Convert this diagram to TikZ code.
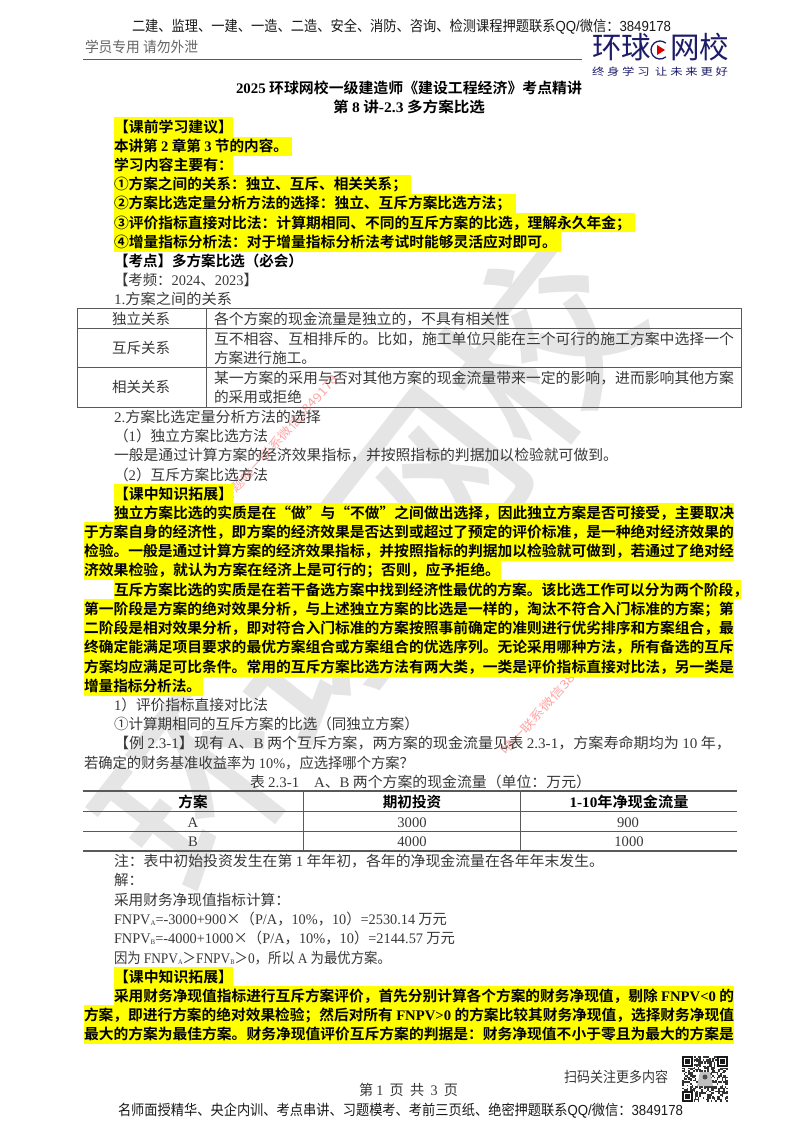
\documentclass[tikz,border=0pt]{standalone}
\usepackage{fontspec}
\usepackage{graphicx}
\setmainfont{Noto Sans CJK SC}[BoldFont={Noto Sans CJK SC Bold}]
\newfontfamily\wmfont{Noto Sans CJK SC Medium}
\newfontfamily\lat{Liberation Serif}
\newfontfamily\las{Liberation Sans}
\newcommand\lt[1]{{\lat #1}}
\newcommand\ls[1]{{\las #1}}
\definecolor{hl}{HTML}{FFFF00}
\definecolor{navy}{HTML}{1C1C68}
\definecolor{bodyc}{HTML}{383838}
\definecolor{wm}{HTML}{E5E5E5}
\tikzset{
  txt/.style={inner sep=0pt,outer sep=0pt,font=\fontsize{14.6pt}{16pt}\selectfont,text=bodyc,anchor=base west},
  ctr/.style={inner sep=0pt,outer sep=0pt,font=\fontsize{14.6pt}{16pt}\selectfont,text=bodyc,anchor=base},
  rule/.style={draw=black!65,line width=1pt},
  ruleb/.style={draw=black!65,line width=1.5pt},
  redmark/.style={inner sep=0pt,font=\fontsize{12pt}{14pt}\selectfont,text=red!35,rotate=48,anchor=west},
}
% x0 x1 ycentre text
\newlength\boxw
\newcommand\tl[4]{\pgfmathsetlength{\boxw}{#2-#1}%
  \node[txt] at (#1,#3+5.4) {\resizebox{\boxw}{\height}{#4}};}
\newcommand\tk[4]{\pgfmathsetlength{\boxw}{#2-#1}%
  \node[txt,text=black!90] at (#1,#3+5.4) {\resizebox{\boxw}{\height}{#4}};}
\newcommand\tb[4]{\pgfmathsetlength{\boxw}{#2-#1}%
  \node[txt,text=black] at (#1,#3+5.4) {\resizebox{\boxw}{\height}{\bfseries #4}};}
\newcommand\hlb[3]{\fill[hl] (#1,#3-9.75) rectangle (#2,#3+9.75);}
\begin{document}
\begin{tikzpicture}[x=1pt,y=-1pt]
\useasboundingbox (0,0) rectangle (800,1132);
\fill[white] (0,0) rectangle (800,1132);
% big watermark
\node[inner sep=0pt,rotate=52,text=wm,font=\fontsize{186pt}{186pt}\wmfont\selectfont] (bigwm) at (368,565) {环球网校};
% small red watermarks
\node[redmark] (wma) at (205,522) {\resizebox{195pt}{\height}{精准押题唯一联系微信3849178}};
\node[redmark] (wmb) at (503,753) {\resizebox{145pt}{\height}{唯一联系微信3849178}};
% highlights
\hlb{114}{233}{127}
\hlb{114}{292}{146.3}
\hlb{114}{233}{165.5}
\hlb{114}{411}{184.5}
\hlb{114}{516}{203.5}
\hlb{114}{635}{222.7}
\hlb{114}{561}{242}
\hlb{114}{233}{494}
\hlb{114}{734}{512.7}
\hlb{84}{734}{532}
\hlb{84}{734}{551.2}
\hlb{84}{501}{570.5}
\hlb{114}{741}{589.7}
\hlb{84}{734}{609}
\hlb{84}{734}{628}
\hlb{84}{734}{647.5}
\hlb{84}{734}{667}
\hlb{84}{203}{686}
\hlb{114}{233}{977}
\hlb{114}{734}{995.7}
\hlb{84}{734}{1015}
\hlb{84}{734}{1034}
% header
\tk{132}{671}{26}{二建、监理、一建、一造、二造、安全、消防、咨询、检测课程押题联系\ls{QQ/}微信：\ls{3849178}}
\node[txt,text=black!60,font=\fontsize{14.6pt}{16pt}\selectfont] at (85,52.4) {\resizebox{113pt}{\height}{学员专用 请勿外泄}};
\draw[rule] (83,59.5) -- (582,59.5);
% logo
\node[txt,text=navy,font=\fontsize{30pt}{30pt}\selectfont] (lg1) at (592,59) {\resizebox{59pt}{\height}{环球}};
\draw[navy,line width=1.3pt] (665.8,56.9) arc (50:310:9);
\fill[red!85!black] (657,45) -- (665,50) -- (657,55) -- cycle;
\node[txt,text=navy,font=\fontsize{30pt}{30pt}\selectfont] (lg2) at (670,59) {\resizebox{59pt}{\height}{网校}};
\node[txt,text=navy,font=\fontsize{10pt}{12pt}\selectfont] (lg3) at (592,75.5) {\resizebox{136pt}{\height}{终 身 学 习\ \ 让 未 来 更 好}};
% title
\tb{236}{582}{88}{\lt{2025} 环球网校一级建造师《建设工程经济》考点精讲}
\tb{333}{485}{107}{第 \lt{8} 讲\lt{-2.3} 多方案比选}
% study block
\tb{114}{233}{127}{【课前学习建议】}
\tb{114}{288}{146.3}{本讲第 \lt{2} 章第 \lt{3} 节的内容。}
\tb{114}{233}{165.5}{学习内容主要有：}
\tb{114}{407}{184.5}{①方案之间的关系：独立、互斥、相关关系；}
\tb{114}{511}{203.5}{②方案比选定量分析方法的选择：独立、互斥方案比选方法；}
\tb{114}{631}{222.7}{③评价指标直接对比法：计算期相同、不同的互斥方案的比选，理解永久年金；}
\tb{114}{557}{242}{④增量指标分析法：对于增量指标分析法考试时能够灵活应对即可。}
\tb{114}{303}{261}{【考点】多方案比选（必会）}
\tl{114}{258}{280}{【考频：\lt{2024}、\lt{2023}】}
\tl{114}{232}{299.5}{\lt{1.}方案之间的关系}
% table 1
\draw[rule] (77,308.5) rectangle (741,407.5);
\draw[rule] (77,328.5) -- (741,328.5) (77,367.5) -- (741,367.5) (206,308.5) -- (206,407.5);
\tl{112}{170}{319.5}{独立关系}
\tl{112}{170}{348}{互斥关系}
\tl{112}{170}{387.5}{相关关系}
\tl{214}{510}{319.5}{各个方案的现金流量是独立的，不具有相关性}
\tl{214}{734}{339}{互不相容、互相排斥的。比如，施工单位只能在三个可行的施工方案中选择一个}
\tl{214}{316}{358}{方案进行施工。}
\tl{214}{734}{378}{某一方案的采用与否对其他方案的现金流量带来一定的影响，进而影响其他方案}
\tl{214}{302}{397.5}{的采用或拒绝}
\tl{114}{321}{417.5}{\lt{2.}方案比选定量分析方法的选择}
\tl{114}{268}{436.5}{（\lt{1}）独立方案比选方法}
\tl{114}{618}{455.5}{一般是通过计算方案的经济效果指标，并按照指标的判据加以检验就可做到。}
\tl{114}{268}{475}{（\lt{2}）互斥方案比选方法}
\tb{114}{233}{494}{【课中知识拓展】}
% yellow para 1
\tb{114}{734}{512.7}{独立方案比选的实质是在“做”与“不做”之间做出选择，因此独立方案是否可接受，主要取决}
\tb{84}{734}{532}{于方案自身的经济性，即方案的经济效果是否达到或超过了预定的评价标准，是一种绝对经济效果的}
\tb{84}{734}{551.2}{检验。一般是通过计算方案的经济效果指标，并按照指标的判据加以检验就可做到，若通过了绝对经}
\tb{84}{500}{570.5}{济效果检验，就认为方案在经济上是可行的；否则，应予拒绝。}
\tb{114}{748}{589.7}{互斥方案比选的实质是在若干备选方案中找到经济性最优的方案。该比选工作可以分为两个阶段，}
\tb{84}{734}{609}{第一阶段是方案的绝对效果分析，与上述独立方案的比选是一样的，淘汰不符合入门标准的方案；第}
\tb{84}{734}{628}{二阶段是相对效果分析，即对符合入门标准的方案按照事前确定的准则进行优劣排序和方案组合，最}
\tb{84}{734}{647.5}{终确定能满足项目要求的最优方案组合或方案组合的优选序列。无论采用哪种方法，所有备选的互斥}
\tb{84}{734}{667}{方案均应满足可比条件。常用的互斥方案比选方法有两大类，一类是评价指标直接对比法，另一类是}
\tb{84}{201}{686}{增量指标分析法。}
\tl{114}{268}{705}{\lt{1}）评价指标直接对比法}
\tl{114}{419}{724}{①计算期相同的互斥方案的比选（同独立方案）}
\tl{114}{731}{743.5}{【例 \lt{2.3-1}】现有 \lt{A}、\lt{B} 两个互斥方案，两方案的现金流量见表 \lt{2.3-1}，方案寿命期均为 \lt{10} 年，}
\tl{84}{414}{763}{若确定的财务基准收益率为 \lt{10\%}，应选择哪个方案？}
\tl{250}{591}{782}{表 \lt{2.3-1}\quad\lt{A}、\lt{B} 两个方案的现金流量（单位：万元）}
% table 2
\draw[ruleb] (83,791) -- (737,791) (83,851) -- (737,851);
\draw[rule] (83,811) -- (737,811) (83,831) -- (737,831) (303,791) -- (303,851) (520,791) -- (520,851);
\node[ctr,text=black,font=\fontsize{14.6pt}{16pt}\selectfont\bfseries] (h1) at (193,807.4) {方案};
\node[ctr,text=black,font=\fontsize{14.6pt}{16pt}\selectfont\bfseries] (h2) at (412,807.4) {期初投资};
\node[ctr,text=black,font=\fontsize{14.6pt}{16pt}\selectfont\bfseries] (h3) at (629,807.4) {\resizebox{119pt}{\height}{\lt{1-10}年净现金流量}};
\node[ctr] (a1) at (193,827) {\lat A};
\node[ctr] (a2) at (412,827) {\lat 3000};
\node[ctr] (a3) at (628,827) {\lat 900};
\node[ctr] (b1) at (193,846.5) {\lat B};
\node[ctr] (b2) at (412,846.5) {\lat 4000};
\node[ctr] (b3) at (629,846.5) {\lat 1000};
\tl{114}{604}{861}{注：表中初始投资发生在第 \lt{1} 年年初，各年的净现金流量在各年年末发生。}
\tl{114}{143}{880}{解：}
\tl{114}{290}{900}{采用财务净现值指标计算：}
\tl{114}{447}{919}{\lt{FNPV\raisebox{-1pt}{\scriptsize A}=-3000+900}×（\lt{P/A}，\lt{10\%}，\lt{10}）\lt{=2530.14} 万元}
\tl{114}{455}{938}{\lt{FNPV\raisebox{-1pt}{\scriptsize B}=-4000+1000}×（\lt{P/A}，\lt{10\%}，\lt{10}）\lt{=2144.57} 万元}
\tl{114}{391}{958}{因为 \lt{FNPV\raisebox{-1pt}{\scriptsize A}}＞\lt{FNPV\raisebox{-1pt}{\scriptsize B}}＞\lt{0}，所以 \lt{A} 为最优方案。}
\tb{114}{233}{977}{【课中知识拓展】}
\tb{114}{734}{995.7}{采用财务净现值指标进行互斥方案评价，首先分别计算各个方案的财务净现值，剔除 \lt{FNPV<0} 的}
\tb{84}{734}{1015}{方案，即进行方案的绝对效果检验；然后对所有 \lt{FNPV>0} 的方案比较其财务净现值，选择财务净现值}
\tb{84}{734}{1034}{最大的方案为最佳方案。财务净现值评价互斥方案的判据是：财务净现值不小于零且为最大的方案是}
% footer
\tl{564}{668}{1077}{扫码关注更多内容}
\tl{359}{458}{1090.5}{第 \lt{1} \ 页 \ 共 \ \lt{3} \ 页}
\tk{118}{683}{1110}{名师面授精华、央企内训、考点串讲、习题模考、考前三页纸、绝密押题联系\ls{QQ/}微信：\ls{3849178}}
% QR code
\pgfmathsetseed{3849}
\foreach \i in {0,...,28}{\foreach \j in {0,...,28}{
  \pgfmathparse{rnd<0.5?1:0}
  \ifnum\pgfmathresult=1
    \fill[black!80] (682+\i*1.586,1056+\j*1.586) rectangle ++(1.586,1.586);
  \fi
}}
\foreach \px/\py in {682/1056,717/1056,682/1091}{
  \fill[white] (\px-0.5,\py-0.5) rectangle ++(12,12);
  \fill[black!90] (\px,\py) rectangle ++(11,11);
  \fill[white] (\px+1.6,\py+1.6) rectangle ++(7.8,7.8);
  \fill[black!90] (\px+3.2,\py+3.2) rectangle ++(4.6,4.6);
}
\fill[black!25] (700,1072) -- (710,1072) -- (713,1086) -- (697,1086) -- cycle;
\fill[black!70] (705,1077) circle (2.5);
\end{tikzpicture}
\end{document}
